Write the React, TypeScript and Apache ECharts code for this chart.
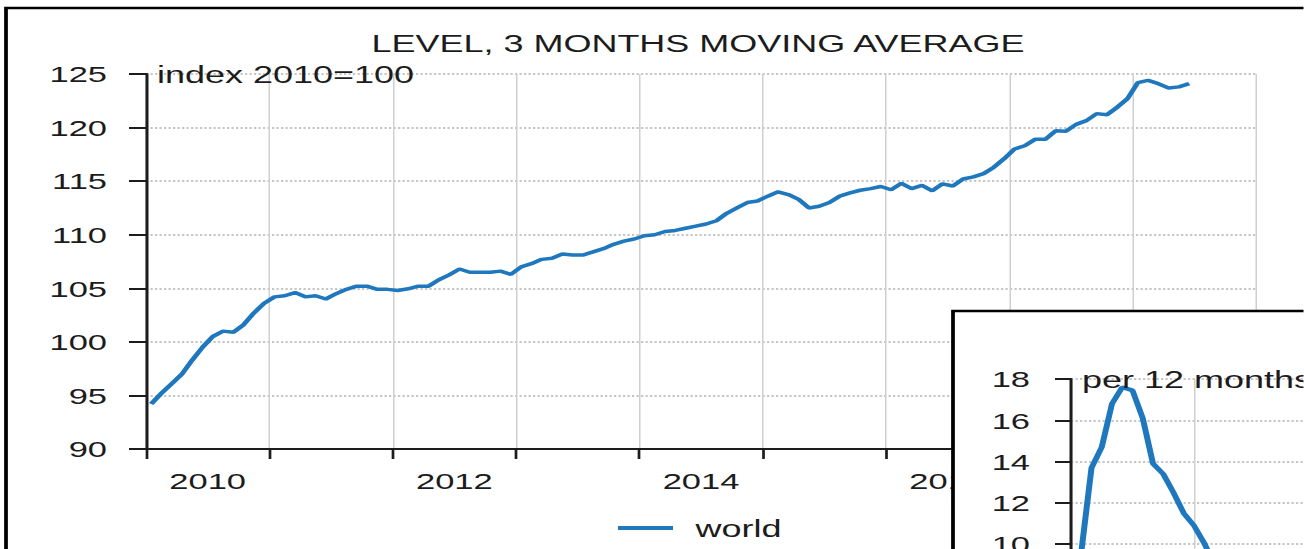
import React, { useEffect, useRef } from "react";
import * as echarts from "echarts";

// ---------- data ----------
const chartTitle = "LEVEL, 3 MONTHS MOVING AVERAGE";
const levelUnit = "index 2010=100";
const growthUnit = "per 12 months";
const seriesName = "world";

// monthly 3-month moving average level, Jan 2010 .. Jun 2018
const level2010 = [94.2, 95.2, 96.1, 97.0, 98.3, 99.5, 100.5, 101.0, 100.9, 101.6, 102.7, 103.6];
const level2011 = [104.2, 104.3, 104.6, 104.2, 104.3, 104.0, 104.5, 104.9, 105.2, 105.2, 104.9, 104.9];
const level2012 = [104.8, 104.95, 105.2, 105.2, 105.8, 106.25, 106.8, 106.5, 106.5, 106.5, 106.6, 106.3];
const level2013 = [107.0, 107.3, 107.7, 107.8, 108.2, 108.1, 108.1, 108.4, 108.7, 109.1, 109.4, 109.6];
const level2014 = [109.9, 110.0, 110.3, 110.4, 110.6, 110.8, 111.0, 111.3, 112.0, 112.5, 113.0, 113.15];
const level2015 = [113.6, 114.0, 113.75, 113.3, 112.5, 112.65, 113.0, 113.6, 113.9, 114.15, 114.3, 114.5];
const level2016 = [114.2, 114.8, 114.3, 114.6, 114.1, 114.75, 114.55, 115.2, 115.4, 115.7, 116.3, 117.1];
const level2017 = [118.0, 118.3, 118.9, 118.9, 119.7, 119.65, 120.3, 120.65, 121.3, 121.2, 121.9, 122.7];
const level2018 = [124.2, 124.4, 124.1, 123.7, 123.8, 124.1];
const levelStartYear = 2010;
const worldLevel = [
  ...level2010, ...level2011, ...level2012, ...level2013, ...level2014,
  ...level2015, ...level2016, ...level2017, ...level2018,
];

// growth per 12 months (visible part of the inset), Feb 2010 .. Mar 2011
const growthStartYear = 2010;
const growthStartMonth = 1; // February (0-based)
const worldGrowth = [9.6, 13.7, 14.7, 16.8, 17.6, 17.45, 16.1, 13.9, 13.4, 12.5, 11.5, 10.9, 10.05, 9.0];

const yearMin = 2010;
const yearMax = 2019;
const yearLabels = [2010, 2012, 2014, 2016, 2018];
const levelMin = 90;
const levelMax = 125;
const levelStep = 5;
const growthMin = 0;
const growthMax = 18;
const growthStep = 2;
const growthFirstShownLabel = 10; // lower labels lie outside the visible picture

// ---------- layout ----------
const W = 1304;
const H = 549;
const S = 1.5; // the reference is stretched horizontally
const sx = (x: number) => x / S;
const font = "'Liberation Sans', Arial, Helvetica, sans-serif";
const ink = "#1c1c1c";
const blue = "#1f78be";

function buildOption(): any {
  const levelData = worldLevel.map((v, i) => [levelStartYear + (i + 0.5) / 12, v]);
  const growthData = worldGrowth.map((v, i) => [growthStartYear + (growthStartMonth + i) / 12, v]);

  const yearLabelFormatter = (v: number) => {
    const y = Math.floor(v + 1e-9);
    return Math.abs(v - y - 0.5) < 1e-6 && yearLabels.includes(y) ? String(y) : "";
  };

  return {
    animation: false,
    textStyle: { fontFamily: font },
    legend: {
      data: [seriesName],
      left: sx(618),
      top: 516,
      padding: 0,
      icon: "rect",
      itemWidth: sx(55),
      itemHeight: 4,
      textStyle: { fontSize: 24, color: ink, fontFamily: font, padding: [0, 0, 0, 10] },
      z: 5,
    },
    grid: [
      { left: sx(146), top: 74, width: sx(1256 - 146), height: 375, outerBoundsMode: "none", containLabel: false },
      { left: sx(1071), top: 379, width: sx(123 * 9), height: 41.3 * 9, outerBoundsMode: "none", containLabel: false },
    ],
    xAxis: [
      {
        gridIndex: 0,
        type: "value",
        min: yearMin,
        max: yearMax,
        interval: 1,
        position: "bottom",
        axisLine: { show: true, onZero: false, lineStyle: { color: ink, width: 2 } },
        axisTick: { show: true, length: 10, lineStyle: { color: ink, width: 1.8 } },
        axisLabel: { show: false },
        splitLine: { show: true, lineStyle: { color: "#cfcfcf", width: 1 } },
      },
      {
        gridIndex: 0,
        type: "value",
        min: yearMin,
        max: yearMax,
        interval: 0.5,
        position: "bottom",
        axisLine: { show: false, onZero: false },
        axisTick: { show: false },
        splitLine: { show: false },
        axisLabel: {
          show: true,
          margin: 20,
          fontSize: 23,
          color: ink,
          fontFamily: font,
          formatter: yearLabelFormatter,
        },
      },
      {
        gridIndex: 1,
        type: "value",
        min: yearMin,
        max: yearMax,
        interval: 1,
        position: "bottom",
        z: 60,
        axisLine: { show: true, onZero: false, lineStyle: { color: ink, width: 2 } },
        axisTick: { show: true, length: 10, lineStyle: { color: ink, width: 1.8 } },
        axisLabel: { show: false },
        splitLine: { show: true, lineStyle: { color: "#cfcfcf", width: 1 } },
      },
    ],
    yAxis: [
      {
        gridIndex: 0,
        type: "value",
        min: levelMin,
        max: levelMax,
        interval: levelStep,
        axisLine: { show: true, lineStyle: { color: ink, width: 2 } },
        axisTick: { show: true, length: sx(17), lineStyle: { color: ink, width: 2 } },
        axisLabel: { margin: sx(39), fontSize: 23, color: ink, fontFamily: font },
        splitLine: { show: true, lineStyle: { color: "#b4b4b4", type: "dotted", width: 1.5 } },
      },
      {
        gridIndex: 1,
        type: "value",
        min: growthMin,
        max: growthMax,
        interval: growthStep,
        z: 60,
        axisLine: { show: true, lineStyle: { color: ink, width: 2 } },
        axisTick: { show: true, length: sx(16), lineStyle: { color: ink, width: 2 } },
        axisLabel: {
          margin: sx(41),
          fontSize: 23,
          color: ink,
          fontFamily: font,
          formatter: (v: number) => (v >= growthFirstShownLabel ? String(v) : ""),
        },
        splitLine: { show: true, lineStyle: { color: "#b4b4b4", type: "dotted", width: 1.5 } },
      },
    ],
    series: [
      {
        name: seriesName,
        type: "line",
        xAxisIndex: 0,
        yAxisIndex: 0,
        data: levelData,
        showSymbol: false,
        symbol: "none",
        lineStyle: { color: blue, width: 3.5 },
        itemStyle: { color: blue },
        z: 3,
      },
      {
        name: seriesName + " per 12 months",
        type: "line",
        xAxisIndex: 2,
        yAxisIndex: 1,
        data: growthData,
        showSymbol: false,
        symbol: "none",
        lineStyle: { color: blue, width: 4 },
        itemStyle: { color: blue },
        z: 70,
      },
    ],
    graphic: {
      elements: [
        {
          type: "rect",
          z: 1,
          shape: { x: sx(6), y: 8, width: sx(1400), height: 700 },
          style: { fill: "none", stroke: "#000", lineWidth: 2.5 },
          silent: true,
        },
        {
          type: "text",
          z: 6,
          x: sx(698),
          y: 43,
          style: {
            text: chartTitle,
            fontSize: 24,
            fontFamily: font,
            fill: ink,
            align: "center",
            verticalAlign: "middle",
          },
        },
        {
          type: "text",
          z: 6,
          x: sx(157),
          y: 74,
          style: {
            text: levelUnit,
            fontSize: 24,
            fontFamily: font,
            fill: ink,
            align: "left",
            verticalAlign: "middle",
          },
        },
        {
          type: "rect",
          z: 50,
          shape: { x: sx(953), y: 311, width: sx(600), height: 400 },
          style: { fill: "#fff", stroke: "#000", lineWidth: 2.5 },
          silent: true,
        },
        {
          type: "text",
          z: 80,
          x: sx(1082),
          y: 379,
          style: {
            text: growthUnit,
            fontSize: 24,
            fontFamily: font,
            fill: ink,
            align: "left",
            verticalAlign: "middle",
          },
        },
      ],
    },
  };
}

export default function App() {
  const ref = useRef<HTMLDivElement>(null);
  useEffect(() => {
    document.body.style.margin = "0";
    document.body.style.overflow = "hidden";
    const el = ref.current;
    if (!el) return;
    const chart = echarts.init(el, undefined, { renderer: "svg", width: W / S, height: H });
    chart.setOption(buildOption());
    return () => {
      chart.dispose();
    };
  }, []);
  return (
    <div style={{ width: W, height: H, overflow: "hidden", background: "#fff", position: "relative" }}>
      <div
        ref={ref}
        style={{
          width: W / S,
          height: H,
          transform: `scaleX(${S})`,
          transformOrigin: "0 0",
        }}
      />
    </div>
  );
}
